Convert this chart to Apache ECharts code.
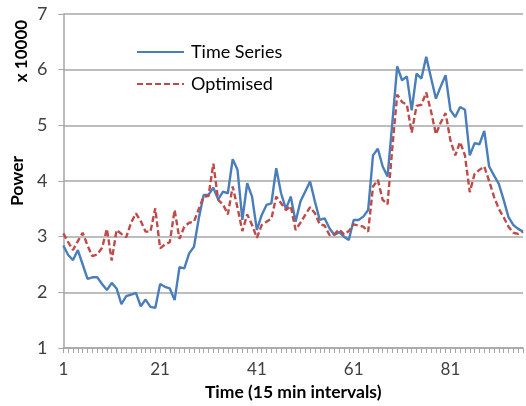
<!DOCTYPE html>
<html>
<head>
<meta charset="utf-8">
<script src="https://cdn.jsdelivr.net/npm/echarts@6/dist/echarts.min.js"></script>
<style>html,body{margin:0;padding:0;background:#fff}#c{width:526px;height:406px}</style>
</head>
<body>
<div id="c"></div>
<script>
// Categories: 96 fifteen-minute intervals
var categories = [];
for (var k = 1; k <= 96; k++) categories.push(String(k));

// Power values (x 10000)
var timeSeries = [
  2.84, 2.67, 2.58, 2.76, 2.50, 2.24, 2.27, 2.27, 2.15, 2.04,
  2.17, 2.07, 1.79, 1.93, 1.96, 1.99, 1.75, 1.87, 1.74, 1.72,
  2.15, 2.10, 2.07, 1.86, 2.45, 2.43, 2.70, 2.82, 3.33, 3.75,
  3.75, 3.88, 3.67, 3.81, 3.78, 4.39, 4.20, 3.30, 3.96, 3.72,
  3.12, 3.39, 3.57, 3.60, 4.23, 3.78, 3.50, 3.72, 3.27, 3.63,
  3.81, 3.99, 3.63, 3.30, 3.33, 3.15, 3.03, 3.08, 3.00, 2.94,
  3.30, 3.30, 3.36, 3.48, 4.46, 4.58, 4.26, 4.08, 5.05, 6.06,
  5.81, 5.88, 5.27, 5.93, 5.84, 6.23, 5.85, 5.48, 5.70, 5.90,
  5.27, 5.15, 5.33, 5.28, 4.46, 4.68, 4.66, 4.90, 4.26, 4.10,
  3.95, 3.66, 3.35, 3.21, 3.14, 3.09
];
var optimised = [
  3.06, 2.90, 2.76, 2.92, 3.07, 2.84, 2.65, 2.68, 2.80, 3.14,
  2.57, 3.12, 3.05, 2.99, 3.25, 3.42, 3.28, 3.09, 3.09, 3.51,
  2.79, 2.86, 2.90, 3.48, 2.96, 3.18, 3.25, 3.27, 3.50, 3.72,
  3.73, 4.31, 3.66, 3.58, 3.40, 3.90, 3.52, 3.10, 3.40, 3.21,
  2.98, 3.21, 3.27, 3.32, 3.72, 3.60, 3.48, 3.55, 3.12, 3.25,
  3.39, 3.53, 3.42, 3.22, 3.20, 3.03, 3.04, 3.13, 3.04, 3.10,
  3.22, 3.20, 3.18, 3.09, 3.90, 4.02, 3.66, 3.58, 4.60, 5.55,
  5.42, 5.37, 4.87, 5.35, 5.37, 5.59, 5.25, 4.84, 5.05, 5.22,
  4.73, 4.46, 4.70, 4.46, 3.80, 4.13, 4.20, 4.26, 4.00, 3.72,
  3.50, 3.35, 3.18, 3.07, 3.05, 3.09
];
var yTicks = {min: 1, max: 7, step: 1};

var FONT = 'Lato, "Noto Sans", sans-serif';
var chart = echarts.init(document.getElementById('c'), null, {renderer: 'canvas'});
chart.setOption({
  animation: false,
  textStyle: {fontFamily: FONT},
  grid: {left: 62, right: 3, top: 14, bottom: 58},
  legend: {
    orient: 'vertical', left: 131, top: 38,
    itemWidth: 47, itemHeight: 14, itemGap: 14,
    itemStyle: {opacity: 0},
    textStyle: {fontFamily: FONT, fontSize: 18, color: '#000', padding: [0, 0, 0, 2]},
    data: ['Time Series', 'Optimised']
  },
  xAxis: {
    type: 'category', data: categories, boundaryGap: false,
    name: 'Time (15 min intervals)', nameLocation: 'middle', nameGap: 33,
    nameTextStyle: {fontFamily: FONT, fontSize: 17.5, fontWeight: 'bold', color: '#000'},
    axisLine: {lineStyle: {color: '#a6a6a6', width: 1.5}},
    axisTick: {show: true, interval: 0, length: 5, lineStyle: {color: '#a6a6a6'}},
    axisLabel: {interval: 19, fontSize: 17, color: '#404040', margin: 13, fontFamily: FONT}
  },
  yAxis: {
    type: 'value', min: yTicks.min, max: yTicks.max, interval: yTicks.step,
    name: 'Power', nameLocation: 'middle', nameGap: 29, nameRotate: 90,
    nameTextStyle: {fontFamily: FONT, fontSize: 17.5, fontWeight: 'bold', color: '#000'},
    axisLine: {show: true, lineStyle: {color: '#a6a6a6', width: 1.5}},
    axisTick: {show: true, length: 5, lineStyle: {color: '#a6a6a6'}},
    axisLabel: {fontSize: 18, color: '#404040', margin: 16, fontFamily: FONT},
    splitLine: {lineStyle: {color: '#bdbdbd', width: 1.8}}
  },
  graphic: [{
    type: 'text', x: 22, y: 51, rotation: Math.PI / 2,
    style: {text: 'x 10000', font: 'bold 17px ' + FONT, fill: '#000', textAlign: 'center', textVerticalAlign: 'middle'}
  }],
  series: [{
    name: 'Time Series', type: 'line', data: timeSeries, symbol: 'none',
    lineStyle: {color: '#4a7ebb', width: 2.4}, itemStyle: {color: '#4a7ebb'}
  }, {
    name: 'Optimised', type: 'line', data: optimised, symbol: 'none',
    lineStyle: {color: '#be4b48', width: 2.4, type: [6, 3]}, itemStyle: {color: '#be4b48'}
  }]
});
</script>
</body>
</html>
